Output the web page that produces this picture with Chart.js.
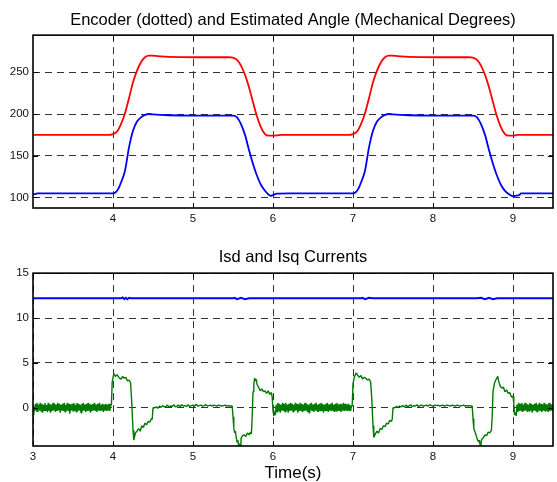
<!DOCTYPE html>
<html><head><meta charset="utf-8">
<script src="https://cdn.jsdelivr.net/npm/chart.js@4/dist/chart.umd.min.js"></script>
<style>
html,body{margin:0;padding:0;background:#fff;}
#c1{position:absolute;left:0;top:0;}
#c2{position:absolute;left:0;top:240px;}
</style></head><body>
<canvas id="c1" width="557" height="240"></canvas>
<canvas id="c2" width="557" height="242"></canvas>
<script>
// ---- data ----
const topTitle = 'Encoder (dotted) and Estimated Angle (Mechanical Degrees)';
const bottomTitle = 'Isd and Isq Currents';
const xAxisTitle = 'Time(s)';
const xTicksTop = [4,5,6,7,8,9];
const xTicksBottom = [3,4,5,6,7,8,9];
const yTicksTop = [100,150,200,250];
const yTicksBottom = [0,5,10,15];

const estimatedAngle = [[3.0,175],[3.95,175],[4.0,176],[4.05,179],[4.1,188],[4.15,201],[4.2,219],[4.25,238],[4.3,252],[4.35,262],[4.4,268],[4.45,270],[4.5,270],[4.6,269],[4.7,268.5],[5.0,268],[5.45,268],[5.5,267.5],[5.55,265],[5.6,258],[5.65,247],[5.7,232],[5.75,214],[5.8,197],[5.85,184],[5.9,176],[5.95,174],[6.0,174],[6.1,175],
[6.95,175],[7.0,176],[7.05,179],[7.1,188],[7.15,201],[7.2,219],[7.25,238],[7.3,252],[7.35,262],[7.4,268],[7.45,270],[7.5,270],[7.6,269],[7.7,268.5],[8.0,268],[8.45,268],[8.5,267.5],[8.55,265],[8.6,258],[8.65,247],[8.7,232],[8.75,214],[8.8,197],[8.85,184],[8.9,176],[8.95,174],[9.0,174],[9.05,175],[9.5,175]];

const encoderAngle = [[3.0,104],[3.03,104],[3.05,105],[4.0,105],[4.03,106],[4.07,111],[4.1,118],[4.15,132],[4.2,160],[4.25,180],[4.3,191],[4.35,196],[4.4,199],[4.45,200],[4.5,199.5],[4.7,198.5],[5.0,198],[5.5,198],[5.55,196],[5.6,188],[5.65,175],[5.7,157],[5.75,140],[5.8,126],[5.85,115],[5.9,108],[5.95,103],[5.97,102],[6.0,103],[6.05,104.5],[6.2,105],
[7.0,105],[7.03,106],[7.07,111],[7.1,118],[7.15,132],[7.2,160],[7.25,180],[7.3,191],[7.35,196],[7.4,199],[7.45,200],[7.5,199.5],[7.7,198.5],[8.0,198],[8.5,198],[8.55,196],[8.6,188],[8.65,175],[8.7,157],[8.75,140],[8.8,126],[8.85,115],[8.9,108],[8.95,104],[9.0,101.5],[9.03,102],[9.08,103],[9.1,105],[9.5,105]];

const isdCurrent = [[3.0,12.2],[4.1,12.2],[4.12,12.3],[4.14,12.1],[4.16,12.25],[4.18,12.1],[4.2,12.25],[4.22,12.2],[5.5,12.2],[5.52,12.25],[5.55,12.1],[5.6,12.25],[5.65,12.1],[5.7,12.2],[7.1,12.2],[7.12,12.25],[7.15,12.1],[7.2,12.25],[7.25,12.2],[8.55,12.2],[8.6,12.25],[8.65,12.1],[8.7,12.25],[8.75,12.1],[8.8,12.2],[9.5,12.2]];

// Isq: noisy/flat stretches sampled on a regular grid, plus transients as (t, value)
const isqNoiseA = [-0.8,-0.5,-0.2,0.45,-0.35,0.55,-0.45,0.35,-0.3,0.55,
-0.35,0.45,-0.55,0.35,-0.3,0.55,-0.35,0.3,-0.45,0.55,
-0.3,0.45,-0.55,0.35,-0.35,0.55,-0.3,0.45,-0.45,0.35,
-0.35,0.55,-0.3,0.45,-0.55,0.35,-0.3,0.45,-0.35,0.55,
-0.45,0.35,-0.3,0.55,-0.35,0.45,-0.65,0.35,-0.3,0.45,
-0.35,0.55,-0.3,0.35,-0.45,0.55,-0.35,0.45,-0.3,0.35,
-0.55,0.45,-0.35,0.55,-0.3,0.35,-0.45,0.45,-0.35,0.55,
-0.3,0.45,-0.55,0.35,-0.35,0.45,-0.3,0.55,-0.35,0.35,
-0.45,0.45,-0.3,0.55,-0.35,0.35,-0.3,0.45,-0.45,0.35,
-0.3,0.45,-0.35,0.35,-0.3,0.45,-0.35,0.3];
const isqStep1 = [[3.98,0.3],[3.99,2.9],[4.01,3.8],[4.03,3.5],[4.05,3.7],[4.08,3.3],[4.10,3.2],[4.12,3.5],[4.14,3.3],[4.16,3.4],[4.18,3.0],[4.20,3.1],[4.22,2.8],[4.235,0.5],[4.25,-2.5],[4.26,-3.6],[4.28,-2.8],[4.30,-2.6],[4.32,-2.3],[4.34,-2.6],[4.36,-2.0],[4.38,-2.2],[4.40,-1.7],[4.42,-1.9],[4.44,-1.5],[4.46,-1.6],[4.48,-1.2],[4.49,-1.3],[4.50,0.0]];
const isqFlatB = [0.0,0.1,-0.05,0.2,0.05,0.25,0.1,0.15,0.3,0.1,0.2,0.15,0.35,0.1,0.2,0.3,0.15,0.35,0.2,0.25,0.15,0.35,0.15,0.25,0.3,0.2,0.4,0.2,0.25,0.3,0.2,0.25,0.35,0.2,0.25,0.3,0.2,0.3,0.25,0.2,0.3,0.25,0.2,0.25,0.3,0.2,0.25,0.2,0.2];
const isqStep2 = [[5.49,0.2],[5.50,-1.0],[5.51,-2.2],[5.52,-2.8],[5.53,-2.6],[5.54,-3.3],[5.55,-3.8],[5.56,-3.6],[5.57,-4.2],[5.58,-4.0],[5.59,-4.3],[5.60,-3.4],[5.62,-3.1],[5.64,-3.0],[5.66,-3.2],[5.68,-2.8],[5.70,-3.0],[5.72,-2.7],[5.73,-2.9],[5.74,-1.0],[5.75,1.8],[5.76,2.6],[5.77,3.3],[5.78,3.0],[5.79,3.2],[5.80,2.6],[5.82,2.3],[5.84,1.9],[5.86,2.1],[5.88,1.8],[5.90,1.9],[5.92,1.6],[5.94,1.9],[5.96,1.5],[5.98,1.7],[5.99,1.2],[6.00,-0.3],[6.01,-0.9],[6.02,-0.4],[6.03,-0.8]];
const isqNoiseC = [0.35,-0.45,0.55,-0.35,0.45,-0.55,0.35,-0.3,0.55,-0.35,
0.45,-0.45,0.55,-0.3,0.35,-0.55,0.45,-0.35,0.55,-0.3,
0.45,-0.45,0.35,-0.35,0.55,-0.3,0.45,-0.55,0.35,-0.35,
0.55,-0.3,0.45,-0.45,0.35,-0.35,0.55,-0.3,0.45,-0.45,
0.35,-0.55,0.45,-0.3,0.55,-0.35,0.35,-0.45,0.45,-0.3,
0.55,-0.35,0.35,-0.45,0.45,-0.3,0.55,-0.35,0.45,-0.55,
0.35,-0.3,0.45,-0.35,0.55,-0.45,0.35,-0.3,0.45,-0.35,
0.55,-0.3,0.35,-0.45,0.45,-0.35,0.55,-0.3,0.35,-0.35,
0.45,-0.45,0.35,-0.3,0.55,-0.35,0.45,-0.3,0.35,-0.35,
0.45,-0.3,0.35,-0.35,0.2];
const isqStep3 = [[6.99,0.2],[7.00,2.7],[7.02,3.5],[7.04,3.9],[7.06,3.6],[7.08,3.4],[7.10,3.6],[7.12,3.2],[7.14,3.4],[7.16,3.3],[7.18,3.1],[7.20,3.2],[7.22,2.9],[7.235,1.0],[7.25,-2.0],[7.26,-3.3],[7.28,-2.9],[7.30,-2.6],[7.32,-2.8],[7.34,-2.3],[7.36,-2.4],[7.38,-2.0],[7.40,-2.1],[7.42,-1.7],[7.44,-1.8],[7.46,-1.4],[7.48,-1.5],[7.49,-1.3],[7.50,0.0]];
const isqFlatD = [0.0,0.15,0.05,0.2,0.1,0.25,0.1,0.3,0.15,0.2,0.35,0.15,0.25,0.2,0.35,0.15,0.25,0.3,0.2,0.25,0.3,0.2,0.35,0.25,0.2,0.3,0.25,0.3,0.2,0.25,0.3,0.2,0.25,0.3,0.25,0.2,0.3,0.25,0.2,0.3,0.25,0.2,0.25,0.3,0.2,0.25,0.2,0.25,0.2];
const isqStep4 = [[8.49,0.2],[8.50,-1.2],[8.51,-2.3],[8.53,-2.8],[8.55,-3.4],[8.57,-3.8],[8.58,-3.6],[8.59,-4.2],[8.60,-3.9],[8.61,-3.5],[8.63,-3.3],[8.65,-3.0],[8.67,-3.1],[8.69,-2.7],[8.71,-2.8],[8.73,-2.5],[8.74,-1.0],[8.75,1.8],[8.77,2.8],[8.79,3.2],[8.81,3.5],[8.82,3.0],[8.84,2.4],[8.86,2.2],[8.88,2.3],[8.90,1.8],[8.92,2.0],[8.94,1.6],[8.96,1.7],[8.98,1.2],[9.00,1.3],[9.01,0.5],[9.02,-0.8],[9.03,-0.5],[9.04,-0.9]];
const isqNoiseE = [0.35,-0.45,0.55,-0.35,0.45,-0.3,0.55,-0.45,0.35,-0.35,
0.55,-0.3,0.45,-0.45,0.35,-0.35,0.55,-0.3,0.45,-0.55,
0.35,-0.3,0.45,-0.35,0.55,-0.45,0.35,-0.3,0.55,-0.35,
0.45,-0.45,0.35,-0.3,0.55,-0.35,0.45,-0.3,0.35,-0.45,
0.55,-0.35,0.45,-0.3,0.35,-0.35];

// ---- helpers ----
const pairs = a => a.map(p => ({x:p[0], y:p[1]}));
const seg = (t0, dt, vals) => vals.map((v,i) => ({x:+(t0 + i*dt).toFixed(3), y:v}));
const isqData = [
  ...seg(3.00,0.01,isqNoiseA), ...pairs(isqStep1), ...seg(4.52,0.02,isqFlatB),
  ...pairs(isqStep2), ...seg(6.04,0.01,isqNoiseC), ...pairs(isqStep3),
  ...seg(7.52,0.02,isqFlatD), ...pairs(isqStep4), ...seg(9.05,0.01,isqNoiseE)
];

const FONT = "'Liberation Sans', Arial, Helvetica, sans-serif";
const TXT = '#111';
const GRID = '#333';

const framePlugin = {
  id: 'frame',
  afterDatasetsDraw(chart) {
    const {ctx, chartArea: a, scales} = chart;
    ctx.save();
    ctx.strokeStyle = '#000';
    ctx.lineWidth = 1;
    ctx.beginPath();
    scales.x.ticks.forEach(t => {
      const p = Math.round(scales.x.getPixelForValue(t.value)) + 0.5;
      ctx.moveTo(p, a.bottom); ctx.lineTo(p, a.bottom - 5);
      ctx.moveTo(p, a.top); ctx.lineTo(p, a.top + 5);
    });
    scales.y.ticks.forEach(t => {
      const p = Math.round(scales.y.getPixelForValue(t.value)) + 0.5;
      ctx.moveTo(a.left, p); ctx.lineTo(a.left + 5, p);
      ctx.moveTo(a.right, p); ctx.lineTo(a.right - 5, p);
    });
    ctx.stroke();
    ctx.lineWidth = 1.6;
    ctx.strokeRect(a.left, a.top, a.right - a.left, a.bottom - a.top);
    ctx.restore();
  }
};

function makeOptions(cfg) {
  return {
    responsive: false,
    animation: false,
    devicePixelRatio: 1,
    layout: {padding: {left: 0, right: 4, top: 0, bottom: 0}},
    plugins: {
      legend: {display: false},
      tooltip: {enabled: false},
      title: {display: true, fullSize: false, text: cfg.title, color: '#000',
        font: {family: FONT, size: 16.5, weight: 'normal', lineHeight: 1.1},
        padding: cfg.titlePad}
    },
    elements: {point: {radius: 0}},
    scales: {
      x: {
        type: 'linear', min: 3, max: 9.5,
        afterBuildTicks: s => { s.ticks = cfg.xTicks.map(v => ({value: v})); },
        afterFit: s => { s.height = cfg.xHeight; },
        ticks: {font: {family: FONT, size: 11.5}, color: TXT, padding: 4, maxRotation: 0, autoSkip: false},
        grid: {color: GRID, lineWidth: 1, drawTicks: false},
        border: {display: false, dash: [7,5]},
        title: cfg.xTitle ? {display: true, text: cfg.xTitle, color: '#000',
          font: {family: FONT, size: 17, lineHeight: 1.0}, padding: {top: 0, bottom: 0}} : {display: false}
      },
      y: {
        min: cfg.yMin, max: cfg.yMax,
        afterBuildTicks: s => { s.ticks = cfg.yTicks.map(v => ({value: v})); },
        afterFit: s => { s.width = 33; },
        ticks: {font: {family: FONT, size: 11.5}, color: TXT, padding: 4},
        grid: {color: GRID, lineWidth: 1, drawTicks: false},
        border: {display: false, dash: [7,5]}
      }
    }
  };
}

new Chart(document.getElementById('c1'), {
  type: 'line',
  data: {datasets: [
    {data: pairs(estimatedAngle), borderColor: '#ff0000', borderWidth: 1.8, cubicInterpolationMode: 'monotone', fill: false},
    {data: pairs(encoderAngle), borderColor: '#0000ff', borderWidth: 1.8, cubicInterpolationMode: 'monotone', fill: false}
  ]},
  options: makeOptions({title: topTitle, titlePad: {top: 11, bottom: 6}, xTicks: xTicksTop, xHeight: 32,
    yMin: 87.4, yMax: 294.5, yTicks: yTicksTop}),
  plugins: [framePlugin]
});

new Chart(document.getElementById('c2'), {
  type: 'line',
  data: {datasets: [
    {data: pairs(isdCurrent), borderColor: '#0000ff', borderWidth: 2, fill: false},
    {data: isqData, borderColor: '#007a00', borderWidth: 1.4, borderJoinStyle: 'bevel', fill: false}
  ]},
  options: makeOptions({title: bottomTitle, titlePad: {top: 8, bottom: 7}, xTicks: xTicksBottom, xHeight: 36,
    yMin: -4.25, yMax: 15, yTicks: yTicksBottom, xTitle: xAxisTitle}),
  plugins: [framePlugin]
});
</script>
</body></html>
